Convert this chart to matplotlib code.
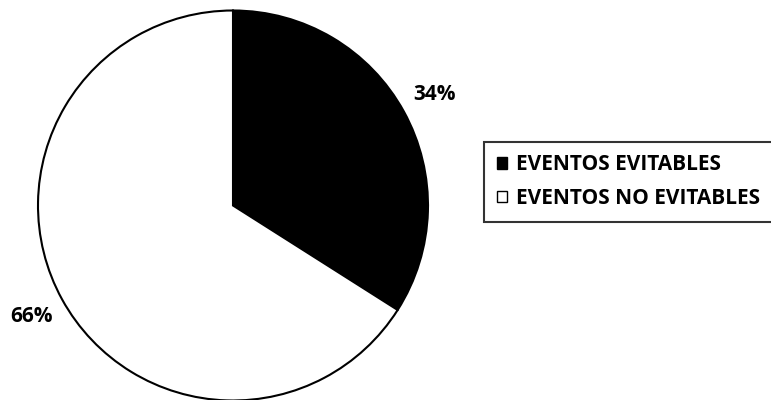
import matplotlib
matplotlib.use("Agg")
import matplotlib.pyplot as plt
from matplotlib.patches import Patch

categories = ["EVENTOS EVITABLES", "EVENTOS NO EVITABLES"]
values = [34, 66]
colors = ["#000000", "#ffffff"]

plt.rcParams["font.family"] = ["Open Sans", "DejaVu Sans"]

W, H, DPI = 771, 400, 100
fig = plt.figure(figsize=(W / DPI, H / DPI), dpi=DPI)
fig.patch.set_facecolor("white")

# pie axes placed in pixel terms: centre (233, 205.5 from top), radius 195
cx, cy, r = 233, H - 205.5, 195
ax = fig.add_axes([(cx - r) / W, (cy - r) / H, 2 * r / W, 2 * r / H])

wedges, texts, autotexts = ax.pie(
    values,
    colors=colors,
    startangle=90,
    counterclock=False,
    radius=1,
    autopct=lambda p: f"{p:.0f}%",
    pctdistance=1.18,
    wedgeprops=dict(edgecolor="black", linewidth=1.5),
    textprops=dict(fontsize=15, fontweight="bold", color="black"),
)
ax.set_xlim(-1, 1)
ax.set_ylim(-1, 1)
ax.set_aspect("equal")
ax.axis("off")
for w in wedges:
    w.set_clip_on(False)

handles = [Patch(facecolor=c, edgecolor="black", linewidth=1.0) for c in colors]
leg = fig.legend(
    handles,
    categories,
    loc="upper left",
    bbox_to_anchor=(484 / W, 1 - 142 / H),
    frameon=True,
    fancybox=False,
    borderaxespad=0,
    handlelength=0.48,
    handleheight=0.48,
    handletextpad=0.45,
    labelspacing=0.6,
    borderpad=0.6,
    prop=dict(size=15, weight="bold"),
)
leg.get_frame().set_edgecolor("black")
leg.get_frame().set_linewidth(1.5)

fig.savefig("out.png", dpi=DPI)
